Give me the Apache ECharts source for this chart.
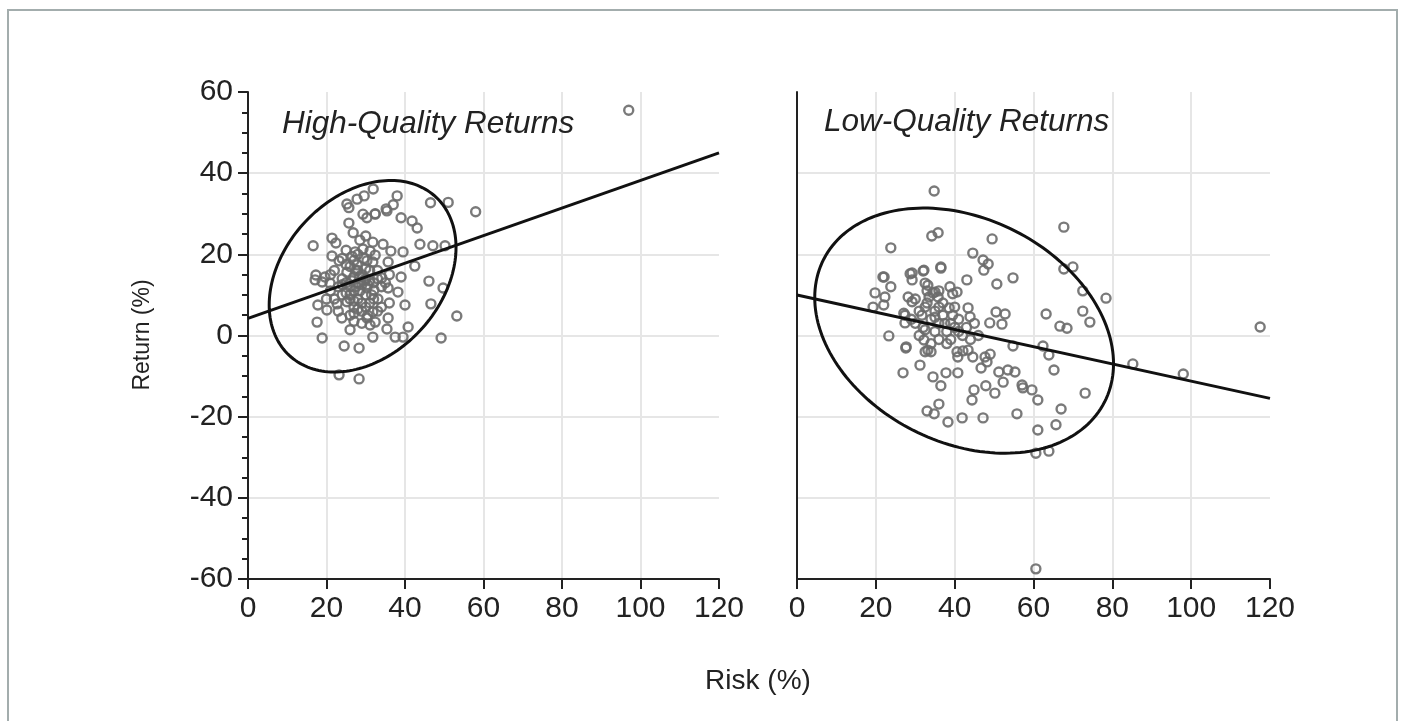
<!DOCTYPE html>
<html>
<head>
<meta charset="utf-8">
<script src="https://cdn.jsdelivr.net/npm/echarts@6/dist/echarts.min.js"></script>
<style>
  html, body { margin: 0; padding: 0; background: #fff; }
  #main { width: 1403px; height: 721px; }
</style>
</head>
<body>
<div id="main"></div>
<script>
// risk / return pairs
const hqPoints = [
  [97, 55.5],
  [58, 30.5], [51, 32.8], [46.5, 32.7], [38, 34.4], [37, 32.2], [35.2, 31.2], [32.4, 29.9], [31.9, 36.1],
  [29.6, 34.4], [27.8, 33.6], [25.2, 32.4], [25.7, 31.5], [29.3, 29.9], [30.3, 29], [32.4, 30], [35.4, 30.7],
  [39, 29], [41.8, 28.2], [43.1, 26.5], [25.7, 27.7], [26.8, 25.3], [28.5, 23.5], [30, 24.5],
  [43.8, 22.5], [47.1, 22.1], [50.2, 22.1], [31.8, 23], [34.4, 22.5], [36.4, 20.8], [39.5, 20.6], [32.4, 19.8],
  [35.7, 18.1], [42.5, 17.1], [16.6, 22.1], [21.4, 24], [22.4, 22.8], [21.4, 19.6], [23.2, 18.4], [27.3, 20.6],
  [29.3, 21.3], [31.1, 20.8], [30.3, 18.4], [27.8, 17.4], [31.8, 18.1],
  [39, 14.4], [34.1, 14.2], [46.1, 13.4], [49.7, 11.7], [38.2, 10.7], [35.7, 11.7], [33.1, 9], [40, 7.5],
  [46.6, 7.8], [53.2, 4.8], [31.8, 5.8], [35.7, 4.3], [32.4, 3.3], [40.8, 2.1], [35.4, 1.6], [37.5, -0.4],
  [39.5, -0.4], [31.8, -0.4], [49.2, -0.6],
  [17.3, 14.9], [19.6, 14.4], [25.2, 15.6], [17.1, 13.7], [18.9, 13.2], [20.9, 12.9], [30.3, 11.7], [32.1, 11.2],
  [17.8, 7.5], [20.1, 6.3], [22.7, 7.8], [25.2, 8.3], [17.6, 3.3], [23.9, 4.3], [26, 1.4], [31.1, 2.6],
  [30.3, 4.3], [18.9, -0.6], [24.5, -2.6], [28.3, -3.1], [23.2, -9.7], [28.3, -10.7],
  [22, 16], [23, 12], [24, 10], [25, 13], [25, 10.5], [26, 12], [26, 17], [27, 11], [27, 14.5], [27, 7],
  [28, 13], [28, 9], [28, 16], [29, 12.5], [29, 15], [29, 6], [30, 10], [30, 14], [31, 8], [31, 16],
  [32, 13], [33, 16], [34, 12], [24, 19], [22, 9], [21, 11], [26, 5], [27, 3.5], [29, 3], [33, 6],
  [36, 15], [25, 21], [23, 6], [28, 20], [26, 9], [24, 14], [30, 7], [32, 9], [27, 18.5], [33, 14],
  [35, 13], [36, 8], [34, 7], [21, 15], [20, 9],
  [26.5, 13.5], [27.5, 12], [28.5, 11], [29.5, 13.5], [30.5, 12.5], [26, 10], [27, 8.5], [28, 6.5],
  [29, 8], [30, 16.5], [31, 13.5], [25, 17.5], [24, 12.5], [28.5, 14.5], [27.5, 16], [26.5, 19.5],
  [31.5, 10], [29.5, 19], [30.5, 5], [27, 5.5]
];

const lqPoints = [
  [34.8, 35.6], [34.2, 24.5], [35.8, 25.3], [23.8, 21.6], [49.5, 23.8], [67.7, 26.7], [44.6, 20.3], [47.2, 18.6],
  [48.5, 17.6], [47.4, 16.1], [36.5, 16.6], [43.1, 13.7], [50.7, 12.7], [54.8, 14.2], [67.7, 16.4], [70, 16.9],
  [72.5, 11], [78.4, 9.2], [72.5, 6], [74.3, 3.3], [63.2, 5.3], [66.7, 2.3], [68.5, 1.8], [21.8, 14.4],
  [19.8, 10.5], [23.8, 12], [29.2, 15.4], [29.2, 13.7], [32.2, 16.1], [32.5, 12.9], [33.2, 12.4], [38.8, 12],
  [28.2, 9.5], [29.2, 8.3], [35, 10.7], [35.8, 9.5], [39.5, 10.3], [40.6, 10.7], [19.3, 7], [22.3, 9.5],
  [22, 7.5], [27.4, 5], [31.7, 5], [36, 7], [38.6, 6.8], [43.4, 6.8], [43.9, 4.6], [50.5, 5.8],
  [52.8, 5.3], [52, 2.8], [48.9, 3.1], [23.3, -0.1], [27.6, -3.1], [32.5, -4], [34, -4], [31.2, -7.3],
  [26.9, -9.2], [34.5, -10.2], [36.5, -12.4], [37.8, -9.2], [40.8, -9.2], [40.6, -4], [42.1, -3.8], [43.4, -3.6],
  [40.8, -5.3], [44.6, -5.3], [47.7, -5.3], [49, -4.6], [48.2, -6.5], [46.7, -8], [51.2, -9], [53.5, -8.5],
  [55.3, -9], [52.3, -11.5], [57.1, -12.2], [57.3, -12.9], [59.6, -13.4], [44.9, -13.4], [47.9, -12.4], [50.2, -14.2],
  [44.4, -15.9], [36, -16.9], [33, -18.6], [34.8, -19.3], [38.3, -21.3], [41.9, -20.3], [47.2, -20.3], [55.8, -19.3],
  [61.1, -15.9], [62.4, -2.6], [63.9, -4.8], [54.8, -2.6], [65.2, -8.5], [73.1, -14.2], [67, -18.1], [65.7, -22],
  [61.1, -23.3], [60.6, -29], [63.9, -28.5], [85.2, -7], [98, -9.5], [117.5, 2.1], [60.6, -57.5],
  [32.5, 1.4], [32.2, -1.1], [33.2, -3.6], [22.1, 14.4], [28.7, 15.2], [32, 15.9], [36.5, 16.9], [27.1, 5.5],
  [27.4, 3.1], [27.7, -2.8],
  [30, 3], [31, 6], [32, 2], [33, 8], [34, 4], [35, 1], [36, 3], [37, 5], [38, 1], [39, 3],
  [40, 2], [41, 4], [42, 0], [36, -1], [38, -2], [30, 9], [33, 11], [35, 6], [37, 8], [39, -1],
  [41, 1], [43, 2], [44, -1], [45, 3], [46, 0], [34, -2], [31, 0], [29, 4], [36, 11], [40, 7],
  [33.5, 9.5], [34.5, 10.5], [32.5, 7], [35, 4.5], [37.5, 3], [39.5, 5]
];

// regression line end points
const hqFit = [[0, 4.2], [120, 45]];
const lqFit = [[0, 10], [120, -15.5]];

// ellipse: centre x, centre y, half width, half height, correlation
const hqEllipse = [29.2, 14.6, 23.8, 23.6, 0.3];
const lqEllipse = [42.4, 1.2, 37.9, 30.2, -0.27];

const xTicks = [0, 20, 40, 60, 80, 100, 120];
const yTicks = [-60, -40, -20, 0, 20, 40, 60];

const FONT = '"Liberation Sans", Arial, sans-serif';
const TXT = '#222';

const myChart = echarts.init(document.getElementById('main'));

function xAxisFor(gi) {
  return {
    type: 'value', gridIndex: gi,
    min: xTicks[0], max: xTicks[xTicks.length - 1], interval: 20,
    axisLine: { show: true, onZero: false, lineStyle: { color: '#222', width: 2 } },
    axisTick: { show: true, inside: false, length: 10, lineStyle: { color: '#222', width: 2 } },
    axisLabel: { fontSize: 30, color: TXT, fontFamily: FONT, margin: 15 },
    splitLine: { show: true, showMinLine: false, showMaxLine: false, lineStyle: { color: '#e6e6e6', width: 2 } }
  };
}

function ellipseItem(params, api) {
  const cx = api.value(0), cy = api.value(1), rx = api.value(2), ry = api.value(3), rho = api.value(4);
  const d = Math.acos(rho);
  const pts = [];
  for (let i = 0; i <= 180; i++) {
    const t = i / 180 * Math.PI * 2;
    pts.push(api.coord([cx + rx * Math.cos(t), cy + ry * Math.cos(t - d)]));
  }
  return {
    type: 'polyline',
    shape: { points: pts },
    style: { stroke: '#111', lineWidth: 3, fill: null }
  };
}

const ringStyle = { color: 'rgba(0,0,0,0)', borderColor: '#6c6c6c', borderWidth: 2.4, opacity: 0.9 };

const option = {
  animation: false,
  backgroundColor: '#fff',
  grid: [
    { left: 248, top: 92, width: 471, height: 487 },
    { left: 797, top: 92, width: 473, height: 487 }
  ],
  title: [
    { text: 'High-Quality Returns', left: 277, top: 103,
      textStyle: { fontSize: 31.5, fontStyle: 'italic', fontWeight: 'normal', color: TXT, fontFamily: FONT } },
    { text: 'Low-Quality Returns', left: 819, top: 101,
      textStyle: { fontSize: 31.5, fontStyle: 'italic', fontWeight: 'normal', color: TXT, fontFamily: FONT } }
  ],
  xAxis: [xAxisFor(0), xAxisFor(1)],
  yAxis: [
    {
      type: 'value', gridIndex: 0,
      min: yTicks[0], max: yTicks[yTicks.length - 1], interval: 20,
      axisLine: { show: true, onZero: false, lineStyle: { color: '#222', width: 2 } },
      axisTick: { show: true, length: 10, lineStyle: { color: '#222', width: 2 } },
      minorTick: { show: true, splitNumber: 4, length: 6, lineStyle: { color: '#222', width: 2 } },
      axisLabel: { fontSize: 30, color: TXT, fontFamily: FONT, margin: 15 },
      splitLine: { show: true, showMinLine: false, showMaxLine: false, lineStyle: { color: '#e6e6e6', width: 2 } }
    },
    {
      type: 'value', gridIndex: 1,
      min: yTicks[0], max: yTicks[yTicks.length - 1], interval: 20,
      axisLine: { show: true, onZero: false, lineStyle: { color: '#222', width: 2 } },
      axisTick: { show: false },
      axisLabel: { show: false },
      splitLine: { show: true, showMinLine: false, showMaxLine: false, lineStyle: { color: '#e6e6e6', width: 2 } }
    }
  ],
  graphic: [
    { type: 'rect', shape: { x: 8, y: 10, width: 1389, height: 730 },
      style: { fill: null, stroke: '#a3adad', lineWidth: 2 }, silent: true },
    { type: 'text', x: 143, y: 335, rotation: Math.PI / 2,
      style: { text: 'Return (%)', fontSize: 23, fill: TXT, fontFamily: FONT, align: 'center', verticalAlign: 'middle' } },
    { type: 'text', x: 758, y: 681,
      style: { text: 'Risk (%)', fontSize: 28, fill: TXT, fontFamily: FONT, align: 'center', verticalAlign: 'middle' } }
  ],
  series: [
    { type: 'scatter', xAxisIndex: 0, yAxisIndex: 0, data: hqPoints, symbol: 'circle', symbolSize: 9, itemStyle: ringStyle, z: 2 },
    { type: 'scatter', xAxisIndex: 1, yAxisIndex: 1, data: lqPoints, symbol: 'circle', symbolSize: 9, itemStyle: ringStyle, z: 2 },
    { type: 'line', xAxisIndex: 0, yAxisIndex: 0, data: hqFit, symbol: 'none', lineStyle: { color: '#111', width: 3 }, z: 3 },
    { type: 'line', xAxisIndex: 1, yAxisIndex: 1, data: lqFit, symbol: 'none', lineStyle: { color: '#111', width: 3 }, z: 3 },
    { type: 'custom', xAxisIndex: 0, yAxisIndex: 0, data: [hqEllipse], renderItem: ellipseItem, encode: { x: 0, y: 1 }, clip: false, z: 3 },
    { type: 'custom', xAxisIndex: 1, yAxisIndex: 1, data: [lqEllipse], renderItem: ellipseItem, encode: { x: 0, y: 1 }, clip: false, z: 3 }
  ]
};

option && myChart.setOption(option);
</script>
</body>
</html>
